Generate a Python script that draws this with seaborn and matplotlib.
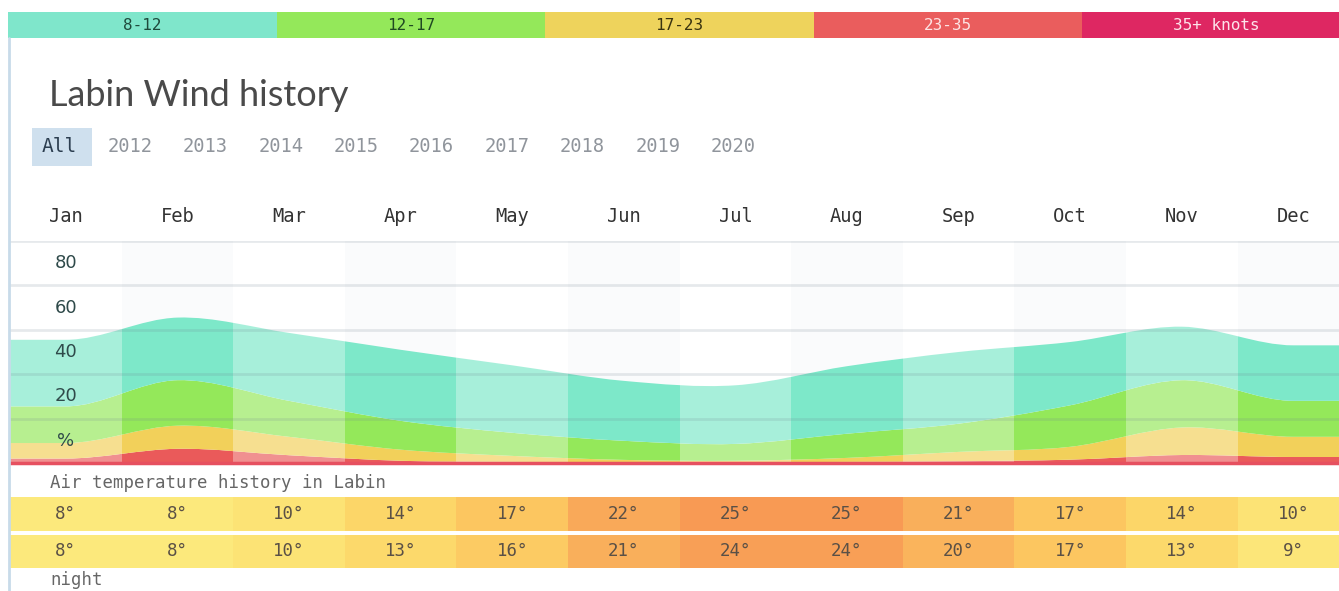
import numpy as np
import matplotlib
matplotlib.use("Agg")
import matplotlib.pyplot as plt
import seaborn as sns
from matplotlib.path import Path
from matplotlib.patches import PathPatch, Rectangle
from matplotlib.colors import LinearSegmentedColormap

# --- data -----------------------------------------------------------------
meses = ["Jan", "Feb", "Mar", "Apr", "May", "Jun", "Jul", "Aug", "Sep", "Oct", "Nov", "Dec"]

# share of time (%) per wind band, stacked bottom -> top
viento_23_35 = [2.0, 6.4, 3.5, 1.0, 0.5, 0.3, 0.3, 0.5, 0.8, 1.5, 3.6, 2.7]
viento_17_23 = [7.0, 10.4, 8.3, 5.0, 2.7, 1.1, 0.7, 1.8, 4.2, 5.8, 12.4, 9.1]
viento_12_17 = [16.5, 20.5, 16.2, 13.0, 10.4, 8.6, 7.6, 10.9, 12.7, 18.7, 21.3, 16.2]
viento_8_12 = [30.0, 28.2, 30.6, 32.0, 30.4, 27.0, 26.4, 30.4, 32.3, 28.5, 24.1, 25.0]

temp_dia = [8, 8, 10, 14, 17, 22, 25, 25, 21, 17, 14, 10]
temp_noche = [8, 8, 10, 13, 16, 21, 24, 24, 20, 17, 13, 9]

bandas = ["8-12", "12-17", "17-23", "23-35", "35+ knots"]
anios = ["2012", "2013", "2014", "2015", "2016", "2017", "2018", "2019", "2020"]
ticks_pct = ["%", "20", "40", "60", "80"]

# --- style -------------------------------------------------------------------
sns.set_theme(style="white")
plt.rcParams["font.family"] = ["DejaVu Sans"]
MONO = "DejaVu Sans Mono"

col_bandas = ["#7fe6cb", "#94e85a", "#eed35c", "#ea5d5d", "#de2762"]
txt_bandas = ["#1f4a3c", "#1f4a22", "#3a3410", "#fde3e3", "#fde3ea"]
capas = [viento_23_35, viento_17_23, viento_12_17, viento_8_12]
col_capas = ["#ea5a5a", "#f2d05a", "#94e85a", "#7de8c9"]

W, H = 1339, 591
fig = plt.figure(figsize=(W / 100, H / 100), dpi=100)
fig.patch.set_facecolor("white")


def fx(px):
    return px / W


def fy(py):
    return 1 - py / H


# --- legend bar on top -------------------------------------------------------
ancho_banda = 268.6
axl = fig.add_axes([fx(8), fy(38), fx(len(bandas) * ancho_banda), 26 / H])
axl.bar(range(len(bandas)), [1] * len(bandas), width=1, align="edge",
        color=col_bandas, edgecolor="none")
for i, b in enumerate(bandas):
    axl.text(i + 0.5, 0.5, b, ha="center", va="center", fontsize=11.5,
             family=MONO, color=txt_bandas[i])
axl.set_xlim(0, len(bandas))
axl.set_ylim(0, 1)
axl.axis("off")

# --- header ------------------------------------------------------------------
fig.text(fx(49), fy(96), "Labin Wind history", fontsize=26, family=["Lato", "DejaVu Sans"],
         fontweight="normal", color="#4a4a4a", va="center")
fig.patches.append(Rectangle((fx(32), fy(166)), fx(60), 38 / H, transform=fig.transFigure,
                             facecolor="#cfe0ee", edgecolor="none"))
fig.text(fx(59), fy(146), "All", fontsize=14, family=MONO, color="#2c3e50",
         ha="center", va="center")
for i, a in enumerate(anios):
    fig.text(fx(130 + i * 75.4), fy(146), a, fontsize=13.5, family=MONO,
             color="#90959c", ha="center", va="center")

# --- wind area chart ---------------------------------------------------------
col_w = 111.6
ax = fig.add_axes([fx(10), fy(463), fx(12 * col_w), 222 / H])
n = len(meses)
xs = np.arange(n)
xl, xr = -0.5, n - 0.5


def curva(y):
    """smooth cubic bezier segments through the monthly points"""
    y = np.asarray(y, float)
    m = np.zeros(n)
    m[1:-1] = (y[2:] - y[:-2]) / 2
    verts, codes = [], []
    for i in range(n - 1):
        verts += [(xs[i] + 1 / 3, y[i] + m[i] / 3),
                  (xs[i + 1] - 1 / 3, y[i + 1] - m[i + 1] / 3),
                  (xs[i + 1], y[i + 1])]
        codes += [Path.CURVE4] * 3
    return verts, codes


base = np.zeros(n)
for vals, color in zip(capas, col_capas):
    top = base + np.array(vals)
    v_top, c_top = curva(top)
    v_bot, c_bot = curva(base[::-1])
    v_bot = [(n - 1 - vx, vy) for vx, vy in v_bot]
    verts = [(xl, top[0]), (xs[0], top[0])] + v_top + [(xr, top[-1]), (xr, base[-1]), (xs[-1], base[-1])] \
        + v_bot + [(xl, base[0]), (xl, top[0])]
    codes = [Path.MOVETO, Path.LINETO] + c_top + [Path.LINETO, Path.LINETO, Path.LINETO] \
        + c_bot + [Path.LINETO, Path.CLOSEPOLY]
    ax.add_patch(PathPatch(Path(verts, codes), facecolor=color, edgecolor="none", zorder=1))
    base = top

# alternating column shading
for i in range(n):
    if i % 2 == 0:
        ax.axvspan(i - 0.5, i + 0.5, color="white", alpha=0.33, lw=0, zorder=1.5)
    else:
        ax.axvspan(i - 0.5, i + 0.5, color="#fafbfc", lw=0, zorder=0)

ax.set_xlim(xl, xr)
ax.set_ylim(0, 100)
ax.set_yticks(range(0, 101, 20))
ax.set_yticklabels([])
ax.set_axisbelow(False)
ax.yaxis.grid(True, color="#6f8090", alpha=0.17, lw=2)
ax.xaxis.grid(False)
ax.axhline(0, color="#e65060", lw=2.5, clip_on=False, zorder=4)
for k, t in enumerate(ticks_pct):
    ax.text(0, 10 + 20 * k, t, ha="center", va="center", fontsize=13,
            color="#2f4a4a", zorder=5)
ax.set_xticks(xs)
ax.set_xticklabels(meses, family=MONO, fontsize=13.5, color="#333333")
ax.xaxis.set_ticks_position("top")
ax.tick_params(axis="x", length=0, pad=11)
ax.tick_params(axis="y", length=0)
for s in ax.spines.values():
    s.set_visible(False)

# --- temperature rows (seaborn heatmaps) -------------------------------------
cmap = LinearSegmentedColormap.from_list(
    "temp", [(0, "#fce97c"), (0.35, "#fcd668"), (0.55, "#fcc45f"),
             (0.8, "#f9ab5a"), (1, "#f89a54")])
fig.text(fx(50), fy(483), "Air temperature history in Labin", fontsize=12.5,
         family=MONO, color="#666666", va="center")
for fila, (y0, y1) in zip([temp_dia, temp_noche], [(497, 531), (535, 568)]):
    axh = fig.add_axes([fx(10), fy(y1), fx(12 * col_w), (y1 - y0) / H])
    datos = np.array([fila])
    etiquetas = np.array([[f"{t}°" for t in fila]])
    sns.heatmap(datos, ax=axh, cmap=cmap, vmin=8, vmax=25, cbar=False,
                annot=etiquetas, fmt="", xticklabels=False, yticklabels=False,
                annot_kws={"family": MONO, "fontsize": 12.5, "color": "#5a5046"})
fig.text(fx(50), fy(580), "night", fontsize=12.5, family=MONO, color="#666666", va="center")

# left border
fig.add_artist(plt.Line2D([fx(9), fx(9)], [0, fy(38)], color="#c8dbe9", lw=2,
                          transform=fig.transFigure))

fig.savefig("out.png", dpi=100, facecolor="white")
